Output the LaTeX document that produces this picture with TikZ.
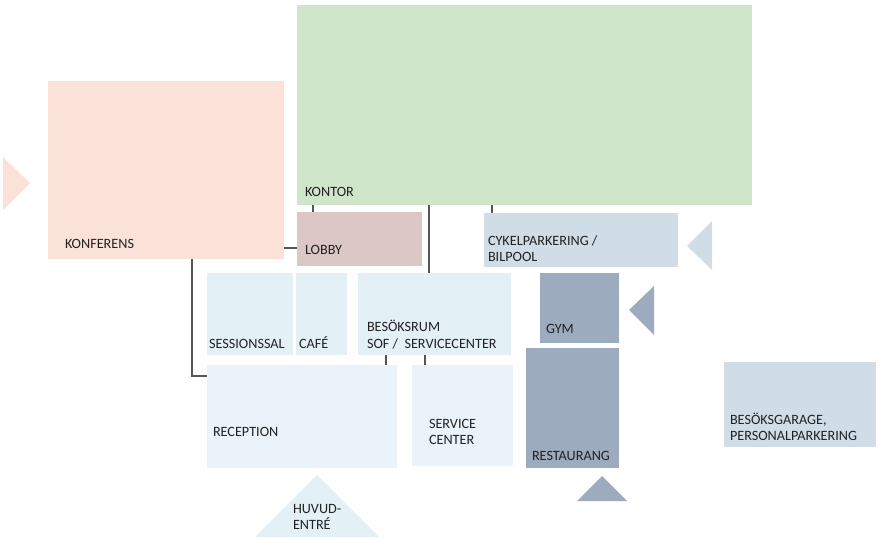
\documentclass[tikz,border=0pt]{standalone}
\usepackage{fontspec}
\setmainfont{Carlito}
\definecolor{kgreen}{HTML}{D0E6CB}
\definecolor{kpink}{HTML}{FAE2D9}
\definecolor{klobby}{HTML}{DCC7C7}
\definecolor{klblue}{HTML}{E3F1F6}
\definecolor{krec}{HTML}{E9F3F9}
\definecolor{kpark}{HTML}{D0DCE6}
\definecolor{kslate}{HTML}{9DABBE}
\definecolor{ktext}{HTML}{222222}
\definecolor{kline}{HTML}{555555}
\tikzset{
  room/.style={draw=none, inner sep=0pt, outer sep=0pt, anchor=north west},
  lbl/.style={inner sep=0pt, outer sep=0pt, anchor=base west, text=ktext, font=\fontsize{14.2}{16}\selectfont},
  link/.style={draw=kline, line width=1.4pt},
}
\begin{document}
\begin{tikzpicture}[x=1pt,y=-1pt]
\useasboundingbox (0,0) rectangle (890,540);
% rooms
\node[room, fill=kgreen, minimum width=455pt, minimum height=200pt] (kontor) at (297,5) {};
\node[room, fill=kpink, minimum width=236pt, minimum height=178pt] (konf) at (48,81) {};
\node[room, fill=klobby, minimum width=125pt, minimum height=54pt] (lobby) at (297,212) {};
\node[room, fill=kpark, minimum width=194pt, minimum height=54pt] (cykel) at (484,213) {};
\node[room, fill=klblue, minimum width=86pt, minimum height=82pt] (sess) at (207,273) {};
\node[room, fill=klblue, minimum width=51pt, minimum height=82pt] (cafe) at (296,273) {};
\node[room, fill=klblue, minimum width=153pt, minimum height=82pt] (besok) at (358,273) {};
\node[room, fill=kslate, minimum width=79pt, minimum height=70pt] (gym) at (540,273) {};
\node[room, fill=krec, minimum width=190pt, minimum height=103pt] (recep) at (207,365) {};
\node[room, fill=krec, minimum width=101pt, minimum height=101pt] (serv) at (412,365) {};
\node[room, fill=kslate, minimum width=93pt, minimum height=120pt] (rest) at (526,348) {};
\node[room, fill=kpark, minimum width=152pt, minimum height=85pt] (garage) at (724,362) {};
% entrance triangles
\fill[kpink] (3,157) -- (30,183) -- (3,210) -- cycle;
\fill[kpark] (712,221) -- (687,246) -- (712,270) -- cycle;
\fill[kslate] (654,286) -- (629,310) -- (654,335) -- cycle;
\fill[kslate] (577,501) -- (602,476) -- (627,501) -- cycle;
\fill[klblue] (255,537) -- (317,475) -- (379,537) -- cycle;
% connectors
\coordinate (c1) at (313,0);
\draw[link] (c1 |- kontor.south) -- (c1 |- lobby.north);
\coordinate (c2) at (0,248);
\draw[link] (c2 -| konf.east) -- (c2 -| lobby.west);
\coordinate (c3) at (429,0);
\draw[link] (c3 |- kontor.south) -- (c3 |- besok.north);
\coordinate (c4) at (492,0);
\draw[link] (c4 |- kontor.south) -- (c4 |- cykel.north);
\coordinate (c5) at (192,376);
\draw[link] (c5 |- konf.south) -- (c5) -- (c5 -| recep.west);
\coordinate (c6) at (386,0);
\draw[link] (c6 |- besok.south) -- (c6 |- recep.north);
\coordinate (c7) at (425,0);
\draw[link] (c7 |- besok.south) -- (c7 |- serv.north);
% labels
\node[lbl] (tkontor) at (305,196) {KONTOR};
\node[lbl] (tkonf) at (65,248) {KONFERENS};
\node[lbl] (tlobby) at (305,254) {LOBBY};
\node[lbl] (tcyk1) at (488,245) {CYKELPARKERING /};
\node[lbl] (tcyk2) at (488,261) {BILPOOL};
\node[lbl] (tsess) at (209,348) {SESSIONSSAL};
\node[lbl] (tcafe) at (299,348) {CAFÉ};
\node[lbl] (tbes1) at (367,331) {BESÖKSRUM};
\node[lbl] (tbes2) at (367,348) {SOF /\ \ SERVICECENTER};
\node[lbl] (tgym) at (546,333) {GYM};
\node[lbl] (trec) at (213,436) {RECEPTION};
\node[lbl] (tserv1) at (429,428) {SERVICE};
\node[lbl] (tserv2) at (429,444) {CENTER};
\node[lbl] (trest) at (532,460) {RESTAURANG};
\node[lbl] (thuv1) at (293,513) {HUVUD-};
\node[lbl] (thuv2) at (293,529) {ENTRÉ};
\node[lbl] (tgar1) at (730,424) {BESÖKSGARAGE,};
\node[lbl] (tgar2) at (730,440) {PERSONALPARKERING};
\end{tikzpicture}
\end{document}
